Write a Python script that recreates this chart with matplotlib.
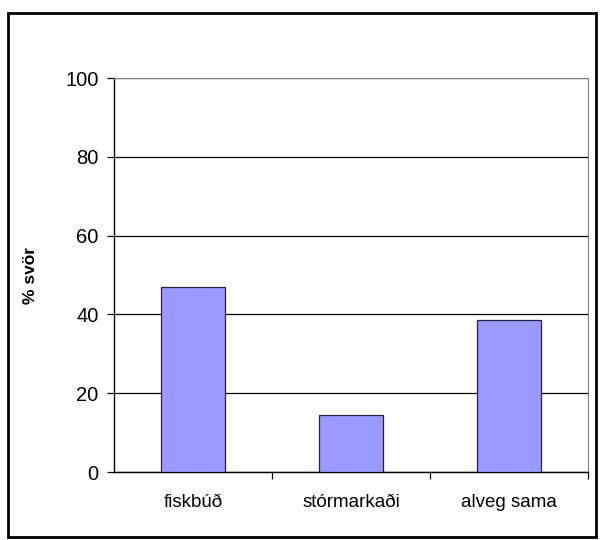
import matplotlib.pyplot as plt
from matplotlib.patches import Rectangle

flokkar = ['fiskbúð', 'stórmarkaði', 'alveg sama']
svor = [47, 14.5, 38.5]
yticks = [0, 20, 40, 60, 80, 100]

plt.rcParams['font.family'] = ['Liberation Sans', 'DejaVu Sans']

fig = plt.figure(figsize=(6, 5.4), dpi=100)
# ramminn utan um myndina
fig.patches.append(Rectangle((8 / 600, 3 / 540), 588 / 600, 524 / 540, transform=fig.transFigure,
                             fill=False, edgecolor='black', linewidth=2))

ax = fig.add_axes([114 / 600, 68 / 540, 474 / 600, 394 / 540])
x = range(len(flokkar))
ax.bar(x, svor, width=0.4, color='#9999FF', edgecolor='#222244', linewidth=0.9, zorder=3)

ax.set_xlim(-0.5, len(flokkar) - 0.5)
ax.set_ylim(0, 100)
ax.set_yticks(yticks)
ax.set_xticks(list(x))
ax.set_xticklabels(flokkar, fontsize=13.5)
ax.set_xticks([0.5, 1.5, 2.5], minor=True)
ax.tick_params(axis='x', which='major', length=0, pad=16)
ax.tick_params(axis='x', which='minor', length=5, width=0.9, direction='out')
ax.tick_params(axis='y', length=5, width=0.9, labelsize=14.5, pad=6)
ax.set_ylabel('% svör', fontsize=12.5, fontweight='bold')
ax.yaxis.set_label_coords(-0.161, 0.5)

ax.grid(axis='y', color='black', linewidth=0.9, zorder=0)
ax.set_axisbelow(True)
for s in ['top', 'right']:
    ax.spines[s].set_color('#808080')
for s in ['left', 'bottom']:
    ax.spines[s].set_color('black')
    ax.spines[s].set_linewidth(1.0)

fig.savefig('out.png', dpi=100)
